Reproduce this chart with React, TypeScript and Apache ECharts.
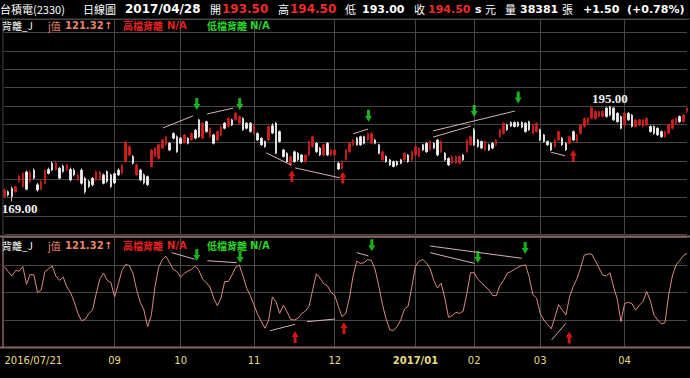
import React, { useEffect, useRef } from "react";
import * as echarts from "echarts";

// ---------- DATA ----------
const tradingDays: [string, number[]][] = [
  ["2016/07", [21, 22, 25, 26, 27, 28, 29]],
  ["2016/08", [1, 2, 3, 4, 5, 8, 9, 10, 11, 12, 15, 16, 17, 18, 19, 22, 23, 24, 25, 26, 29, 30, 31]],
  ["2016/09", [1, 2, 5, 6, 7, 8, 9, 10, 12, 13, 19, 20, 21, 22, 23, 26, 29, 30]],
  ["2016/10", [3, 4, 5, 6, 7, 11, 12, 13, 14, 17, 18, 19, 20, 21, 24, 25, 26, 27, 28, 31]],
  ["2016/11", [1, 2, 3, 4, 7, 8, 9, 10, 11, 14, 15, 16, 17, 18, 21, 22, 23, 24, 25, 28, 29, 30]],
  ["2016/12", [1, 2, 5, 6, 7, 8, 9, 12, 13, 14, 15, 16, 19, 20, 21, 22, 23, 26, 27, 28, 29, 30]],
  ["2017/01", [3, 4, 5, 6, 9, 10, 11, 12, 13, 16, 17, 18, 19, 20, 23, 24]],
  ["2017/02", [2, 3, 6, 7, 8, 9, 10, 13, 14, 15, 16, 17, 18, 20, 21, 22, 23, 24]],
  ["2017/03", [1, 2, 3, 6, 7, 8, 9, 10, 13, 14, 15, 16, 17, 20, 21, 22, 23, 24, 27, 28, 29, 30, 31]],
  ["2017/04", [5, 6, 7, 10, 11, 12, 13, 14, 17, 18, 19, 20, 21, 24, 25, 26, 27, 28]],
];

// [open, close, low, high]
const ohlcJul = [
  [170.3, 172.1, 169.8, 172.5], [171.6, 170.7, 170.3, 172.0], [172.5, 170.3, 169.0, 173.0],
  [171.6, 173.0, 171.3, 173.3], [174.4, 175.9, 174.1, 176.2], [173.0, 176.6, 172.6, 177.0],
  [177.0, 172.3, 172.0, 177.4],
];
const ohlcAug = [
  [174.4, 177.0, 174.0, 177.4], [177.5, 175.3, 175.0, 178.0], [173.5, 172.1, 171.6, 174.0],
  [172.3, 174.4, 172.0, 174.8], [173.9, 177.4, 173.6, 177.8], [177.7, 176.6, 176.3, 178.2],
  [179.4, 177.5, 177.2, 179.8], [177.7, 179.5, 177.4, 180.0], [178.0, 175.3, 175.0, 178.4],
  [178.6, 177.1, 176.8, 179.0], [177.5, 178.9, 177.2, 179.3], [177.7, 174.8, 174.4, 178.2],
  [177.5, 176.2, 175.8, 178.0], [174.8, 176.2, 174.5, 176.6], [177.5, 173.9, 173.5, 178.0],
  [175.3, 171.6, 171.0, 175.7], [174.4, 173.0, 172.6, 174.8], [175.3, 173.5, 173.1, 175.6],
  [174.8, 177.1, 174.5, 177.4], [174.9, 177.0, 174.6, 177.3], [176.2, 173.9, 173.6, 176.6],
  [177.1, 174.4, 174.0, 177.4], [176.2, 173.0, 172.6, 176.6],
];
const ohlcSep = [
  [176.5, 174.0, 173.7, 176.8], [177.5, 176.2, 175.9, 178.0], [176.6, 178.9, 176.3, 179.2],
  [179.8, 185.0, 179.5, 185.6], [181.6, 183.9, 181.3, 184.3], [181.2, 179.4, 179.0, 181.6],
  [176.2, 178.9, 175.8, 179.3], [177.5, 174.8, 174.4, 177.9], [176.2, 174.0, 173.6, 176.6],
  [175.7, 173.5, 173.2, 176.0], [178.5, 183.0, 178.2, 183.3], [181.2, 183.5, 180.9, 183.8],
  [180.7, 184.4, 180.4, 184.7], [183.5, 185.7, 183.2, 186.0], [184.4, 186.6, 184.1, 186.9],
  [184.8, 183.0, 182.7, 185.1], [187.5, 186.2, 185.9, 187.8], [186.6, 182.5, 182.2, 187.0],
];
const ohlcOct = [
  [186.2, 184.8, 184.5, 186.5], [185.0, 187.1, 184.7, 187.4], [186.2, 184.8, 184.5, 186.5],
  [185.7, 187.5, 185.4, 187.8], [188.4, 186.2, 185.9, 188.7], [191.2, 186.6, 186.3, 191.5],
  [186.2, 190.3, 185.9, 190.6], [190.7, 188.0, 187.7, 191.0], [186.6, 188.9, 186.3, 189.2],
  [187.1, 184.8, 184.5, 187.4], [185.7, 188.0, 185.4, 188.3], [187.1, 189.4, 186.8, 189.7],
  [190.3, 188.9, 188.6, 190.6], [189.4, 191.6, 189.1, 191.9], [191.2, 189.8, 189.5, 191.5],
  [191.2, 193.0, 190.9, 193.4], [190.3, 192.1, 190.0, 192.4], [191.6, 188.5, 188.2, 191.9],
  [190.3, 188.9, 188.6, 190.6], [190.3, 188.0, 187.7, 190.6],
];
const ohlcNov = [
  [187.5, 189.8, 187.2, 190.1], [187.5, 185.7, 185.4, 187.8], [186.2, 184.4, 184.1, 186.5],
  [185.3, 183.9, 183.6, 185.6], [185.7, 189.4, 185.4, 189.7], [189.6, 187.6, 187.3, 190.3],
  [190.3, 182.1, 181.8, 190.6], [188.0, 185.3, 185.0, 188.3], [183.0, 181.2, 180.9, 183.3],
  [182.1, 179.8, 179.5, 182.4], [178.9, 181.2, 178.6, 181.5], [182.5, 179.8, 179.5, 182.8],
  [182.1, 180.3, 180.0, 182.4], [181.6, 179.8, 179.5, 181.9], [179.8, 181.6, 179.5, 181.9],
  [181.6, 185.3, 181.3, 185.6], [183.9, 186.6, 183.6, 186.9], [184.8, 182.5, 182.2, 185.1],
  [183.5, 181.6, 181.3, 183.8], [181.6, 184.4, 181.3, 184.7], [184.8, 181.6, 181.3, 185.1],
  [181.6, 183.0, 181.3, 183.3],
];
const ohlcDec = [
  [181.6, 183.0, 181.3, 183.3], [179.4, 177.8, 177.5, 179.7], [178.0, 179.8, 177.7, 180.1],
  [180.3, 183.0, 180.0, 183.3], [182.5, 184.8, 182.2, 185.1], [184.4, 185.7, 184.1, 186.0],
  [186.2, 184.4, 184.1, 186.5], [186.6, 184.4, 184.1, 186.9], [186.6, 184.8, 184.5, 186.9],
  [185.7, 187.5, 185.4, 187.8], [184.8, 187.5, 184.5, 187.8], [185.7, 184.8, 184.5, 186.0],
  [184.4, 182.1, 181.8, 184.7], [180.3, 182.5, 180.0, 182.8], [181.2, 179.8, 179.5, 181.5],
  [180.3, 178.9, 178.6, 180.6], [179.8, 178.5, 178.2, 180.1], [179.8, 178.9, 178.6, 180.1],
  [180.3, 179.4, 179.1, 180.6], [180.3, 182.1, 180.0, 182.4], [181.6, 179.8, 179.5, 181.9],
  [180.3, 182.5, 180.0, 182.8],
];
const ohlcJan = [
  [181.6, 183.9, 181.3, 184.2], [181.2, 183.5, 180.9, 183.8], [184.4, 183.0, 182.7, 184.7],
  [184.8, 182.5, 182.2, 185.1], [183.0, 185.3, 182.7, 185.6], [184.8, 183.5, 183.2, 185.1],
  [185.7, 181.6, 181.3, 186.0], [182.5, 185.3, 182.2, 185.6], [182.1, 180.3, 180.0, 182.4],
  [180.7, 178.9, 178.6, 181.0], [179.4, 181.2, 179.1, 181.5], [179.4, 181.2, 179.1, 181.5],
  [179.4, 181.2, 179.1, 181.5], [181.6, 180.3, 180.0, 181.9], [182.5, 185.7, 182.2, 186.0],
  [184.4, 186.6, 184.1, 186.9],
];
const ohlcFeb = [
  [188.5, 184.4, 184.1, 189.0], [185.7, 183.9, 183.6, 186.0], [185.3, 183.5, 183.2, 185.6],
  [183.0, 185.3, 182.7, 185.6], [184.4, 183.0, 182.7, 184.7], [184.8, 183.5, 183.2, 185.1],
  [184.4, 185.7, 184.1, 186.0], [186.6, 188.5, 186.3, 188.8], [187.5, 190.3, 187.2, 190.6],
  [189.8, 188.5, 188.2, 190.1], [190.5, 189.5, 189.2, 190.8], [190.5, 189.4, 189.1, 190.8],
  [190.5, 189.5, 189.2, 190.8], [190.5, 189.2, 188.9, 190.8], [190.3, 188.0, 187.7, 190.6],
  [190.7, 188.5, 188.2, 191.0], [187.5, 189.8, 187.2, 190.1], [188.0, 190.3, 187.7, 190.6],
];
const ohlcMar = [
  [188.5, 185.7, 185.4, 188.8], [187.1, 185.3, 185.0, 187.4], [185.3, 184.4, 184.1, 185.6],
  [184.8, 183.0, 182.7, 185.1], [183.9, 185.7, 183.6, 186.0], [185.7, 188.0, 185.4, 188.3],
  [186.2, 184.4, 184.1, 186.5], [184.8, 183.0, 182.7, 185.1], [184.8, 186.6, 184.5, 186.9],
  [188.0, 185.7, 185.4, 188.3], [185.3, 187.1, 185.0, 187.4], [187.5, 189.8, 187.2, 190.1],
  [189.4, 191.6, 189.1, 191.9], [190.3, 191.6, 190.0, 191.9], [191.6, 194.5, 191.3, 194.8],
  [191.6, 193.5, 191.3, 193.8], [192.1, 193.5, 191.8, 193.8], [192.1, 193.5, 191.8, 193.8],
  [194.4, 192.1, 191.8, 194.7], [194.8, 192.5, 192.2, 195.0], [194.4, 191.2, 190.9, 194.7],
  [193.0, 190.7, 190.4, 193.3], [192.1, 188.9, 188.6, 192.4],
];
const ohlcApr = [
  [189.8, 193.0, 189.5, 193.3], [193.0, 191.2, 190.9, 193.3], [192.5, 189.4, 189.1, 192.8],
  [189.4, 191.2, 189.1, 191.5], [189.8, 191.2, 189.5, 191.5], [189.4, 191.2, 189.1, 191.5],
  [189.8, 191.6, 189.5, 191.9], [189.4, 188.0, 187.7, 189.7], [189.4, 187.5, 187.2, 189.7],
  [188.9, 187.1, 186.8, 189.2], [188.0, 186.6, 186.3, 188.3], [186.6, 188.0, 186.3, 188.3],
  [187.5, 189.8, 187.2, 190.1], [188.9, 191.2, 188.6, 191.5], [190.3, 191.6, 190.0, 191.9],
  [192.1, 190.7, 190.4, 192.4], [190.7, 192.5, 190.4, 192.8], [193.5, 194.5, 193.0, 194.5],
];

// J values of the 背離_J indicator
const jJul = [97, 88, 80, 90, 89, 97, 65];
const jAug = [83, 82, 50, 55, 88, 93, 98, 80, 72, 78, 60, 50, 33, 12, -1, 1, 12, 18, 48, 75, 85, 72, 68];
const jSep = [42, 65, 90, 101, 99, 85, 55, 32, 18, -12, 8, 60, 95, 110, 116, 104, 92, 88];
const jOct = [78, 85, 89, 92, 98, 90, 74, 68, 60, 40, 26, 40, 70, 70, 82, 96, 100, 80, 58, 44];
const jNov = [27, 10, -3, -15, 0, 42, 33, 12, 27, 15, 1, 0, 3, 12, 16, 25, 55, 84, 76, 66, 62, 50];
const jDec = [45, 24, 6, 12, 40, 80, 107, 103, 104, 110, 108, 92, 62, 28, 2, -18, -19, -12, 0, 20, 25, 60];
const jJan = [98, 107, 110, 104, 93, 72, 58, 67, 40, 5, 8, 14, 12, 16, 48, 86];
const jFeb = [86, 74, 68, 61, 55, 45, 44, 62, 72, 85, 88, 92, 96, 99, 100, 78, 46, 40];
const jMar = [12, 0, -8, -16, 5, 28, 18, 9, 42, 61, 75, 95, 118, 120, 120, 108, 95, 82, 80, 86, 60, 38, -3];
const jApr = [30, 32, 30, 18, 27, 33, 52, 35, 9, 0, -7, -5, 45, 80, 100, 108, 117, 121.32];

// divergence annotations: [index1, value1, index2, value2]
const priceDivLines = [
  [43.2, 189.0, 51.4, 192.3], [55.2, 192.8, 62.3, 194.4], [71.3, 182.2, 78.1, 178.9],
  [79.2, 178.1, 91.4, 175.4], [95.0, 187.4, 99.1, 188.7], [116.8, 188.2, 139.1, 193.6],
  [116.8, 186.5, 127.1, 189.5], [148.9, 182.4, 152.8, 181.4],
];
const jDivLines = [
  [45.6, 122.4, 51.9, 110.4], [55.3, 107.8, 63.3, 104.2], [72.4, -19.5, 79.2, -7.8],
  [82.4, -3.1, 90.1, 1.8], [96.0, 122.4, 99.2, 116.4], [116.0, 134.5, 141.0, 112.2],
  [116.0, 122.4, 128.0, 103.1], [149.1, -36.4, 153.0, -6.0],
];
const priceSellArrows = [[52.4, 195.5], [64.1, 195.5], [99.2, 192.3], [128.0, 193.6], [140.0, 197.3]];
const priceBuyArrows = [[78.3, 175.9], [92.2, 175.5], [155.0, 181.4]];
const jSellArrows = [[52.4, 118], [64.2, 114.5], [100.1, 136], [129.0, 114.5], [141.9, 131]];
const jBuyArrows = [[79.2, -31], [92.5, -14.5], [153.9, -32]];

// header quote
const header = {
  name: "台積電(2330)", period: "日線圖", date: "2017/04/28",
  open: "193.50", high: "194.50", low: "193.00", close: "194.50",
  unit: "元", volume: "38381", change: "+1.50", pct: "(+0.78%)",
};
const jLast = "121.32";

// ---------- STYLE ----------
const BG = "#000000";
const GRID = "#474747";
const PINK = "#8a6464";
const UP = "#d41e1e";
const DOWN = "#f4f4f4";
const JCOL = "#d98b7b";
const DIVCOL = "#d8b0b0";
const SALMON = "#e8846c";
const LRED = "#e42222";
const LGREEN = "#26d626";
const HRED = "#f02a2a";
const YEL = "#e6dc82";
const CJK = '"Noto Sans CJK TC", sans-serif';
const NUM = '"DejaVu Sans", sans-serif';

const DOWN_ARROW = "path://M2,0 L5,0 L5,6 L7,6 L3.5,12 L0,6 L2,6 Z";
const UP_ARROW = "path://M2,12 L5,12 L5,6 L7,6 L3.5,0 L0,6 L2,6 Z";

export default function App() {
  const ref = useRef<HTMLDivElement>(null);

  useEffect(() => {
    if (!ref.current) return;
    const chart = echarts.init(ref.current, undefined, { renderer: "svg" });

    const dates: string[] = [];
    tradingDays.forEach(([m, ds]) => ds.forEach((d) => dates.push(`${m}/${String(d).padStart(2, "0")}`)));
    const ohlc = [...ohlcJul, ...ohlcAug, ...ohlcSep, ...ohlcOct, ...ohlcNov, ...ohlcDec, ...ohlcJan, ...ohlcFeb, ...ohlcMar, ...ohlcApr];
    const jVals = [...jJul, ...jAug, ...jSep, ...jOct, ...jNov, ...jDec, ...jJan, ...jFeb, ...jMar, ...jApr];
    const n = dates.length;

    // month boundaries (the first one is too close to the start label, so it is skipped)
    const monthStart = new Set<number>([0]);
    dates.forEach((d, i) => {
      if (i >= 15 && d.slice(0, 7) !== dates[i - 1].slice(0, 7)) monthStart.add(i);
    });

    let maxIdx = 0, minIdx = 0;
    ohlc.forEach((c, i) => {
      if (c[3] > ohlc[maxIdx][3]) maxIdx = i;
      if (c[2] < ohlc[minIdx][2]) minIdx = i;
    });

    const txt = (x: number, y: number, text: string, fill: string, font: string) => ({
      type: "text", x, y, z: 60, silent: true,
      style: { text, fill, font, align: "left", verticalAlign: "middle" },
    });
    const hline = (y: number, color: string, w: number) => ({
      type: "line", z: 55, silent: true,
      shape: { x1: 0, y1: y, x2: 690, y2: y }, style: { stroke: color, lineWidth: w },
    });

    const B12 = `bold 12px ${NUM}`;
    const B11 = `bold 11px ${NUM}`;
    const C11 = `11px ${CJK}`;
    const headerEls = [
      txt(0, 9, header.name, "#ffffff", C11),
      txt(83, 9, header.period, "#ffffff", C11),
      txt(125, 9, header.date, "#ffffff", B12),
      txt(210, 9, "開", "#ffffff", C11),
      txt(222, 9, header.open, HRED, B12),
      txt(278, 9, "高", "#ffffff", C11),
      txt(290, 9, header.high, HRED, B12),
      txt(345, 9, "低", "#ffffff", C11),
      txt(362, 9, header.low, "#ffffff", B11),
      txt(414, 9, "收", "#ffffff", C11),
      txt(428, 9, header.close, HRED, B11),
      txt(475, 9, "s", "#ffffff", B11),
      txt(485, 9, header.unit, "#ffffff", C11),
      txt(505, 9, "量", "#ffffff", C11),
      txt(520, 9, header.volume, "#ffffff", B11),
      txt(562, 9, "張", "#ffffff", C11),
      txt(583, 9, header.change, "#ffffff", B11),
      txt(627, 9, header.pct, "#ffffff", B11),
    ];
    const legendRow = (y: number) => [
      txt(2, y, "背離_J", "#ffffff", `10px ${CJK}`),
      txt(48, y, "j值", SALMON, `10px ${CJK}`),
      txt(65, y, jLast, SALMON, `bold 10px ${NUM}`),
      txt(104, y, "↑", SALMON, `bold 10px ${NUM}`),
      txt(123, y, "高檔背離", LRED, `bold 10px ${CJK}`),
      txt(167, y, "N/A", LRED, `bold 10px ${NUM}`),
      txt(207, y, "低檔背離", LGREEN, `bold 10px ${CJK}`),
      txt(250, y, "N/A", LGREEN, `bold 10px ${NUM}`),
    ];

    const segSeries = (segs: number[][], xi: number, yi: number) =>
      segs.map((s) => ({
        type: "line", xAxisIndex: xi, yAxisIndex: yi, silent: true, symbol: "none", z: 5,
        data: [[s[0], s[1]], [s[2], s[3]]],
        lineStyle: { color: DIVCOL, width: 1 },
      }));
    const arrowSeries = (pts: number[][], xi: number, yi: number, up: boolean) => ({
      type: "scatter", xAxisIndex: xi, yAxisIndex: yi, silent: true, z: 6,
      symbol: up ? UP_ARROW : DOWN_ARROW, symbolSize: [7, 12],
      itemStyle: { color: up ? "#ff1a1a" : "#22dd22" },
      data: pts,
    });

    const catAxis = (gi: number, labels: boolean) => ({
      type: "category", gridIndex: gi, data: dates, boundaryGap: false,
      axisLine: { show: false }, axisTick: { show: false },
      splitLine: { show: true, interval: (i: number) => i > 0 && monthStart.has(i), lineStyle: { color: GRID, width: 1 } },
      axisLabel: labels
        ? {
            show: true, showMinLabel: true, interval: (i: number) => monthStart.has(i), color: YEL, fontSize: 10,
            fontFamily: NUM, margin: 8, alignMinLabel: "left",
            formatter: (v: string, i: number) => {
              if (i === 0) return v;
              const [y, m] = v.split("/");
              return m === "01" ? `{b|${y}/${m}}` : m;
            },
            rich: { b: { fontWeight: "bold", color: YEL, fontSize: 10, fontFamily: NUM } },
          }
        : { show: false },
    });

    const option: any = {
      animation: false,
      backgroundColor: BG,
      grid: [
        { left: 4.5, right: 3, top: 19, height: 215.3 },
        { left: 4.5, right: 3, top: 237.5, height: 110 },
      ],
      xAxis: [
        catAxis(0, false),
        catAxis(1, true),
        { type: "value", gridIndex: 0, min: 0, max: n - 1, show: false },
        { type: "value", gridIndex: 1, min: 0, max: n - 1, show: false },
      ],
      yAxis: [
        {
          type: "value", gridIndex: 0, min: 160, max: 218.7, interval: 5,
          axisLine: { show: false }, axisTick: { show: false }, axisLabel: { show: false },
          splitLine: { show: true, lineStyle: { color: GRID, width: 1 } },
        },
        {
          type: "value", gridIndex: 1, min: -50, max: 150, interval: 50,
          axisLine: { show: false }, axisTick: { show: false }, axisLabel: { show: false },
          splitLine: { show: true, lineStyle: { color: GRID, width: 1 } },
        },
      ],
      series: [
        {
          type: "candlestick", xAxisIndex: 0, yAxisIndex: 0, data: ohlc, barWidth: 2, silent: true,
          itemStyle: { color: UP, color0: DOWN, borderColor: UP, borderColor0: DOWN, borderWidth: 0.8 },
          markPoint: {
            symbol: "circle", symbolSize: 0, silent: true,
            label: { color: "#f2f2f2", fontFamily: '"Liberation Serif", serif', fontWeight: "bold", fontSize: 13 },
            data: [
              { coord: [maxIdx, ohlc[maxIdx][3]], value: ohlc[maxIdx][3],
                label: { formatter: ohlc[maxIdx][3].toFixed(2), position: "top", distance: 1 } },
              { coord: [minIdx, ohlc[minIdx][2]], value: ohlc[minIdx][2],
                label: { formatter: ohlc[minIdx][2].toFixed(2), position: "bottom", distance: 1, align: "left", offset: [-10, 0] } },
            ],
          },
        },
        {
          type: "line", xAxisIndex: 1, yAxisIndex: 1, data: jVals, symbol: "none", silent: true,
          lineStyle: { color: JCOL, width: 1 },
        },
        ...segSeries(priceDivLines, 2, 0),
        ...segSeries(jDivLines, 3, 1),
        arrowSeries(priceSellArrows, 2, 0, false),
        arrowSeries(priceBuyArrows, 2, 0, true),
        arrowSeries(jSellArrows, 3, 1, false),
        arrowSeries(jBuyArrows, 3, 1, true),
      ],
      graphic: {
        elements: [
          hline(19, GRID, 1),
          hline(236.5, PINK, 2),
          hline(347.5, PINK, 2),
          { type: "line", z: 55, silent: true, shape: { x1: 3, y1: 19, x2: 3, y2: 235 }, style: { stroke: GRID, lineWidth: 1 } },
          { type: "line", z: 55, silent: true, shape: { x1: 3, y1: 236, x2: 3, y2: 348 }, style: { stroke: PINK, lineWidth: 1.5 } },
          ...headerEls,
          ...legendRow(25),
          ...legendRow(245),
        ],
      },
    };

    chart.setOption(option);
    return () => chart.dispose();
  }, []);

  return (
    <div
      ref={ref}
      style={{ position: "fixed", left: 0, top: 0, width: 690, height: 378, background: "#000" }}
    />
  );
}
